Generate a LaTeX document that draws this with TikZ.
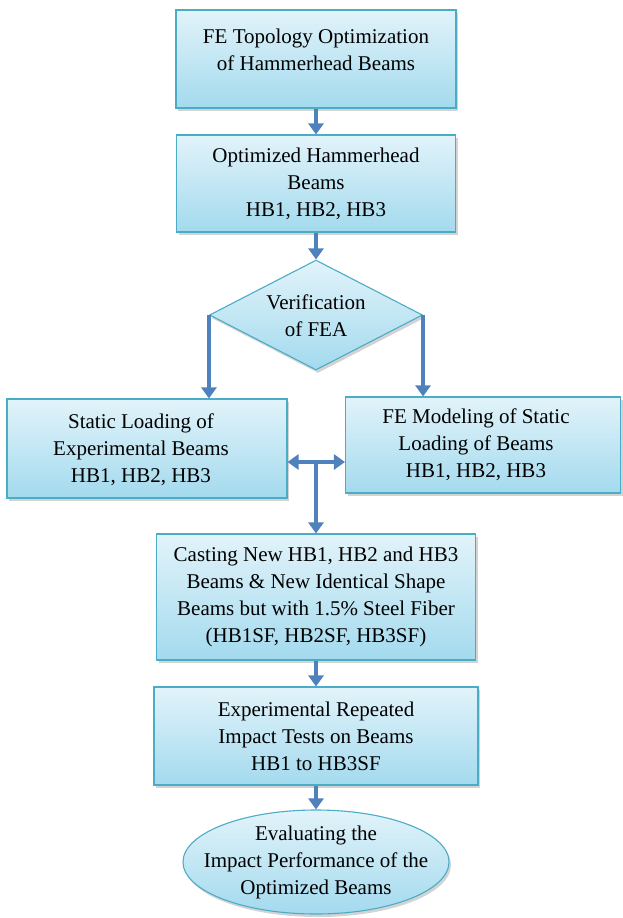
\documentclass[tikz,border=0pt]{standalone}
\usepackage{fontspec}
\setmainfont{Liberation Serif}
\usetikzlibrary{shapes.geometric,shadows,arrows.meta}
\definecolor{edgec}{HTML}{4BACC6}
\definecolor{topc}{HTML}{E2F3FA}
\definecolor{botc}{HTML}{A3DAEE}
\definecolor{arrc}{HTML}{4F81BD}
\begin{document}
\begin{tikzpicture}[x=1pt,y=-1pt,
  shape box/.style={draw=edgec, line width=1.1pt, top color=topc, bottom color=botc,
    inner sep=0pt, drop shadow={shadow xshift=2pt, shadow yshift=-3pt, opacity=0.35}},
  box/.style={shape box, rectangle, align=center, font=\fontsize{21}{27}\selectfont},
  txt/.style={align=center, font=\fontsize{21}{27}\selectfont, inner sep=0pt},
  flow/.style={draw=arrc, line width=4pt, -{Triangle[width=15pt,length=11pt]}},
  twoway/.style={draw=arrc, line width=4pt, {Triangle[width=15pt,length=11pt]}-{Triangle[width=15pt,length=11pt]}},
]
\useasboundingbox (0,0) rectangle (622,918);

% boxes
\node[box, minimum width=280pt, minimum height=98pt] (b1) at (316,59) {};
\node[txt] (b1t) at (316,50) {FE Topology Optimization\\of Hammerhead Beams};

\node[box, minimum width=279pt, minimum height=97pt] (b2) at (316,183.5)
  {Optimized Hammerhead\\Beams\\HB1, HB2, HB3};

\node[shape box, diamond, minimum width=213pt, minimum height=110pt] (d) at (316,315) {};
\node[txt] (dt) at (316,316) {Verification\\of FEA};

\node[box, minimum width=280pt, minimum height=99pt] (lb) at (147,448.5) {};
\node[txt] (lbt) at (141,450) {Static Loading of\\Experimental Beams\\HB1, HB2, HB3};

\node[box, minimum width=275pt, minimum height=96pt] (rb) at (483,445) {};
\node[txt] (rbt) at (476,445) {FE Modeling of Static\\Loading of Beams\\HB1, HB2, HB3};

\node[box, minimum width=319pt, minimum height=126pt] (b4) at (316,597)
  {Casting New HB1, HB2 and HB3\\Beams \& New Identical Shape\\Beams but with 1.5\% Steel Fiber\\(HB1SF, HB2SF, HB3SF)};

\node[box, minimum width=324pt, minimum height=98pt] (b5) at (316,736)
  {Experimental Repeated\\Impact Tests on Beams\\HB1 to HB3SF};

\node[shape box, ellipse, minimum width=266pt, minimum height=104pt] (e) at (316,862) {};
\node[txt] (et) at (316,862) {Evaluating the\\Impact Performance of the\\Optimized Beams};

% connectors
\coordinate (j) at (316,462);
\draw[flow] (b1.south) -- (b2.north);
\draw[flow] (b2.south) -- (d.north);
\draw[flow] (d.west) -- (d.west |- lb.north);
\draw[flow] (d.east) -- (d.east |- rb.north);
\draw[twoway] (j -| lb.east) -- (j -| rb.west);
\draw[flow] ([yshift=2pt]j) -- (j |- b4.north);
\draw[flow] (b4.south) -- (b5.north);
\draw[flow] (b5.south) -- (e.north);
\end{tikzpicture}
\end{document}
